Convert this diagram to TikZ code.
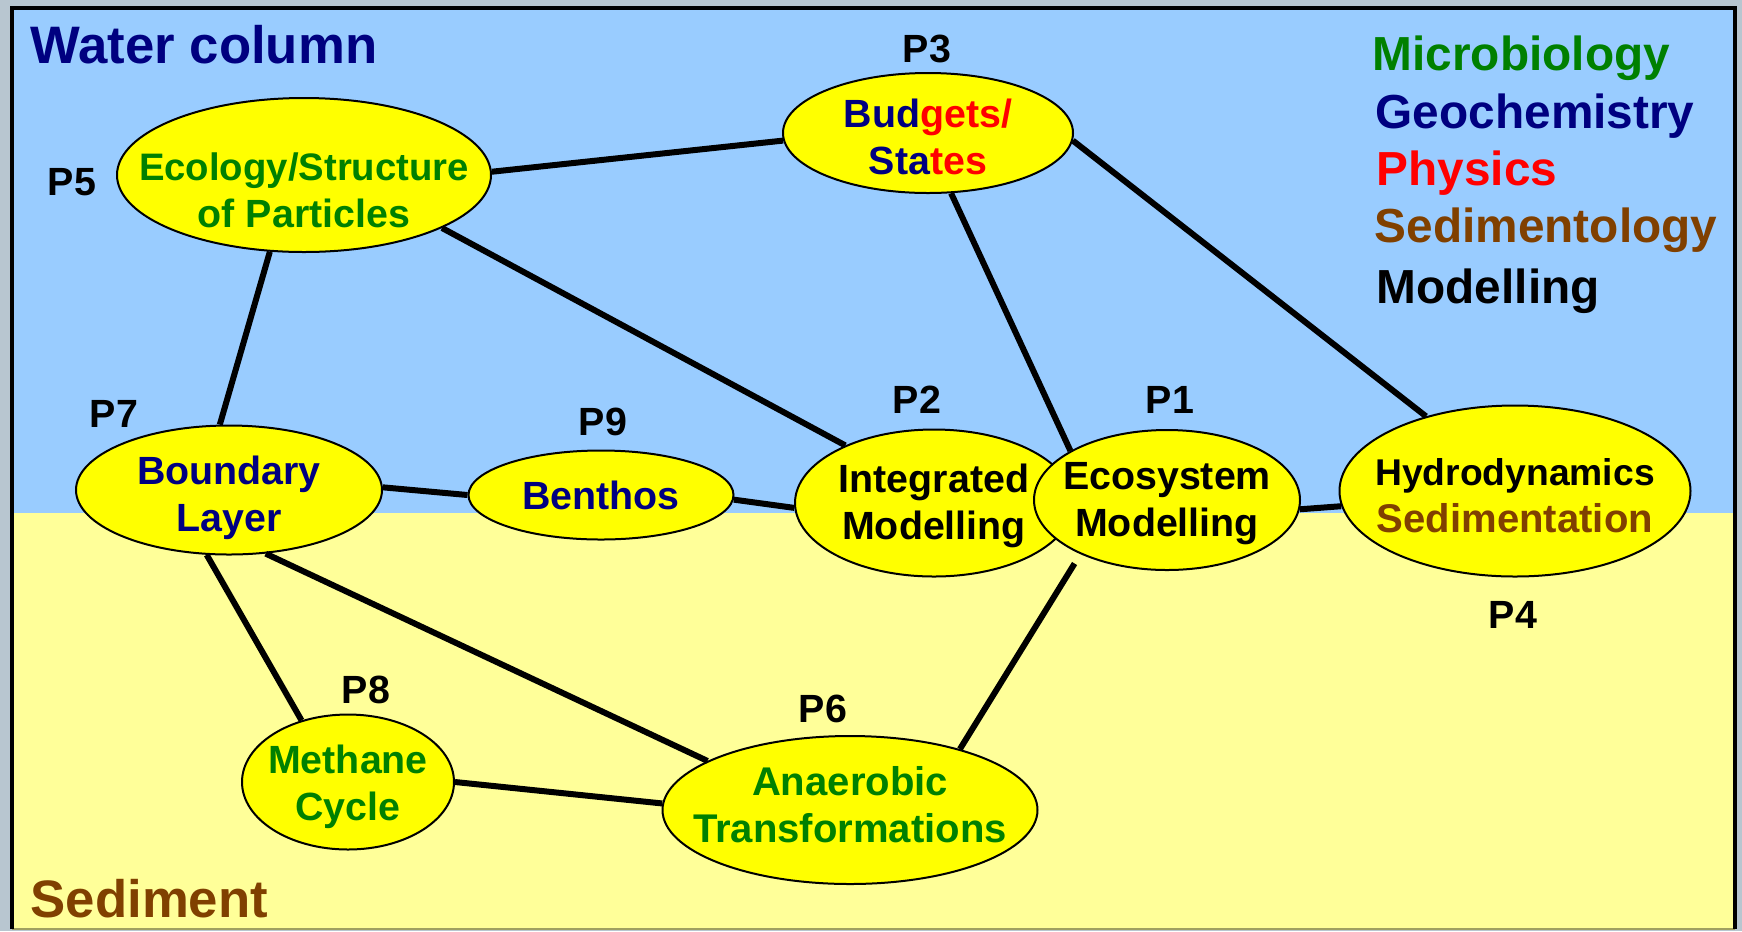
\documentclass[tikz,border=0pt]{standalone}
\usepackage{fontspec}
\setmainfont{Liberation Sans}
\usepackage{tikz}
\usetikzlibrary{shapes.geometric, positioning}
\definecolor{water}{HTML}{99CCFF}
\definecolor{sediment}{HTML}{FFFF99}
\definecolor{bubble}{HTML}{FFFF00}
\definecolor{micro}{HTML}{008000}
\definecolor{geo}{HTML}{000080}
\definecolor{phys}{HTML}{FF0000}
\definecolor{sedi}{HTML}{804000}
\definecolor{outside}{RGB}{184,198,208}
\definecolor{rim}{RGB}{160,160,96}
\newcommand{\dropto}[1]{\rule{0pt}{#1}} % taller first line pushes the text down
\tikzset{
    project/.style={ellipse, draw, line width=0.2mm, fill=bubble, inner sep=-30pt, align=center,
        font=\fontsize{11.2}{13.4}\selectfont\bfseries}, % the yellow bubbles, size set per node
    tag/.style={anchor=base, font=\fontsize{11.2}{13.4}\selectfont\bfseries}, % project numbers
    link/.style={line width=0.6mm}, % the black connectors
    legend/.style={anchor=base west, inner sep=0pt, font=\fontsize{13.6}{16}\selectfont\bfseries}, % discipline list
    layer/.style={anchor=base west, inner sep=0pt, font=\fontsize{15}{18}\selectfont\bfseries}, % water / sediment
}

\begin{document}
\begin{tikzpicture}[x=0.1mm, y=-0.1mm]
    \useasboundingbox (0,0) rectangle (1742,931);
    \fill[outside] (0,0) rectangle (1742,931);
    \fill[water] (12,8) rectangle (1735,513);
    \fill[sediment] (12,513) rectangle (1735,929);
    \draw[rim, line width=0.2mm] (12,929) -- (1735,929);
    \draw[line width=0.45mm] (12,929) -- (12,8) -- (1735,8) -- (1735,929);

    \node[layer, text=geo] (water) at (30,63) {Water column};
    \node[layer, text=sedi] (sed) at (30,917) {Sediment};

    \node[legend, text=micro] (lmicro) at (1372,70) {Microbiology};
    \node[legend, text=geo] (lgeo) at (1375,128) {Geochemistry};
    \node[legend, text=phys] (lphys) at (1376,185) {Physics};
    \node[legend, text=sedi] (lsedi) at (1374,242) {Sedimentology};
    \node[legend] (lmod) at (1376,303) {Modelling};

%   bubbles
    \node[project, minimum width=37.4mm, minimum height=15.4mm, text=micro] (eco) at (304,175)
        {\dropto{16.5pt}\fontsize{10.9}{13.4}\selectfont Ecology/Structure\\of Particles};
    \node[project, minimum width=29mm, minimum height=12mm, text=geo] (bud) at (928,133)
        {\dropto{10.5pt}Bud\textcolor{phys}{gets/}\\Sta\textcolor{phys}{tes}};
    \node[project, minimum width=30.6mm, minimum height=12.9mm, text=geo] (bl) at (229,490)
        {\dropto{12.8pt}Boundary\\Layer};
    \node[project, minimum width=26.5mm, minimum height=8.9mm, text=geo] (ben) at (601,495) {Benthos};
    \node[project, minimum width=27.8mm, minimum height=14.7mm] (int) at (934,503)
        {\dropto{9.6pt}Integrated\\Modelling};
    \node[project, minimum width=26.6mm, minimum height=14mm] (ecs) at (1167,500)
        {\dropto{9.6pt}Ecosystem\\Modelling};
    \node[project, minimum width=35.1mm, minimum height=17.1mm] (hyd) at (1515,491)
        {\dropto{10.3pt}\fontsize{10.6}{13.4}\selectfont Hydrodynamics\\\fontsize{11.4}{13.4}\selectfont\textcolor{sedi}{Sedimentation}};
    \node[project, minimum width=21.2mm, minimum height=13.5mm, text=micro] (met) at (348,782)
        {\dropto{11pt}Methane\\Cycle};
    \node[project, minimum width=37.5mm, minimum height=14.8mm, text=micro] (ana) at (850,810)
        {\fontsize{11.4}{13.4}\selectfont Anaerobic\\\fontsize{11.4}{13.4}\selectfont Transformations\rule[-3.4pt]{0pt}{0pt}};

%   project numbers
    \node[tag] (p1) at (1170,413) {P1};
    \node[tag] (p2) at (917,413) {P2};
    \node[tag] (p3) at (927,62) {P3};
    \node[tag] (p4) at (1513,628) {P4};
    \node[tag] (p5) at (72,195) {P5};
    \node[tag] (p6) at (823,722) {P6};
    \node[tag] (p7) at (114,427) {P7};
    \node[tag] (p8) at (366,703) {P8};
    \node[tag] (p9) at (603,435) {P9};

%   connectors
    \draw[link] (eco.1) -- (bud.183);
    \draw[link] (eco.-21) -- (int.147);
    \draw[link] (eco.-114) -- (bl.98);
    \draw[link] (bud.-69) -- (ecs.153);
    \draw[link] (bud.-3) -- (hyd.140);
    \draw[link] (bl.1) -- (ben.180);
    \draw[link] (ben.-2) -- (int.182);
    \draw[link] (ecs.-4) -- (hyd.185);
    \draw[link] (bl.-109) -- (met.127);
    \draw[link] (bl.-60) -- (ana.161);
    \draw[link] (met.0) -- (ana.178);
    \draw[link, shorten <=1.1mm] (ecs.-148) -- (ana.29);
\end{tikzpicture}
\end{document}
